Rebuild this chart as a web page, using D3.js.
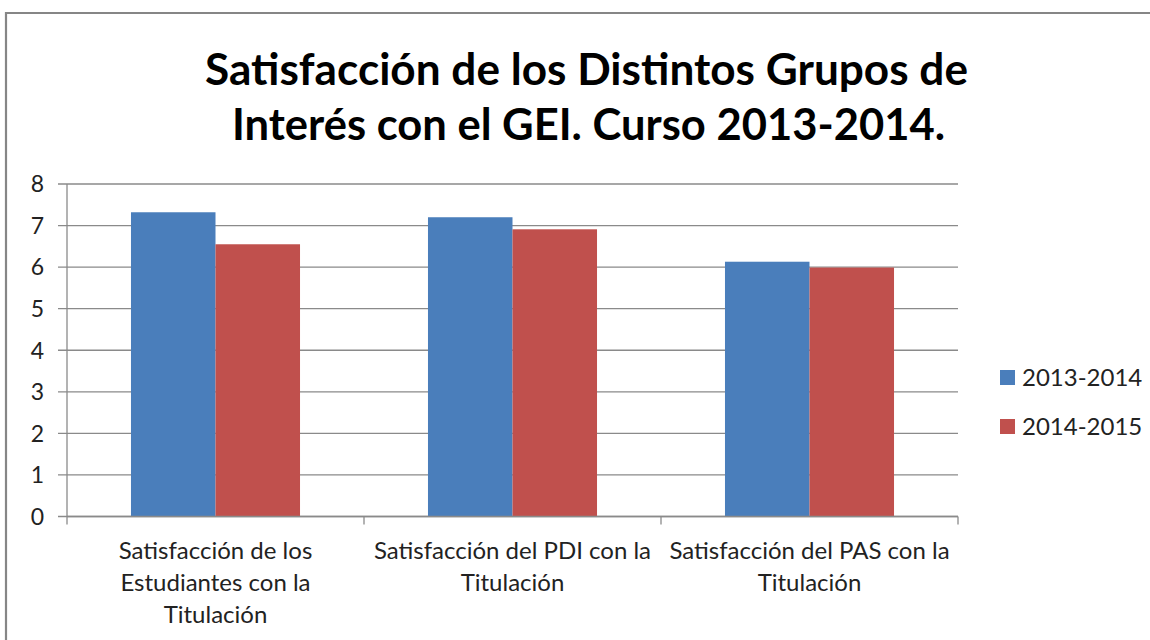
<!DOCTYPE html>
<html>
<head>
<meta charset="utf-8">
<script src="https://cdn.jsdelivr.net/npm/d3@7"></script>
<style>
  html, body { margin: 0; padding: 0; background: #fff; }
  svg { display: block; }
  text { font-family: Lato, "Open Sans", "Liberation Sans", sans-serif; fill: #222; }
</style>
</head>
<body>
<svg id="chart" width="1150" height="640"></svg>
<script>
const categories = [
  ["Satisfacción de los", "Estudiantes con la", "Titulación"],
  ["Satisfacción del PDI con la", "Titulación"],
  ["Satisfacción del PAS con la", "Titulación"]
];
const seriesNames = ["2013-2014", "2014-2015"];
const values2013 = [7.32, 7.20, 6.13];
const values2014 = [6.55, 6.91, 5.99];
const yTicks = [0, 1, 2, 3, 4, 5, 6, 7, 8];
const titleLines = ["Satisfacción de los Distintos Grupos de", "Interés con el GEI. Curso 2013-2014."];
const colors = ["#4A7EBB", "#C0504D"];

const svg = d3.select("#chart");

// outer chart border
svg.append("path")
  .attr("d", "M6,640 L6,13 L1150,13")
  .attr("fill", "none").attr("stroke", "#868686").attr("stroke-width", 2.2);

// title
const titleW = [763, 713];
const titleY = [85, 140];
titleLines.forEach((t, i) => {
  svg.append("text")
    .attr("x", i === 0 ? 586.5 : 588.5).attr("y", titleY[i])
    .attr("text-anchor", "middle")
    .attr("font-size", 44).attr("font-weight", "bold")
    .attr("textLength", titleW[i]).attr("lengthAdjust", "spacingAndGlyphs")
    .style("fill", "#000")
    .text(t);
});

const plot = { left: 67, right: 958, top: 184, bottom: 516.5 };

const x0 = d3.scaleBand().domain(d3.range(categories.length))
  .range([plot.left, plot.right]).paddingInner(0).paddingOuter(0);
const x1 = d3.scaleBand().domain(d3.range(seriesNames.length))
  .range([0, x0.bandwidth()]).paddingInner(0).paddingOuter(0.757);
const y = d3.scaleLinear().domain([0, 8]).range([plot.bottom, plot.top]);

// gridlines
svg.append("g").selectAll("line").data(yTicks).join("line")
  .attr("x1", plot.left - 9).attr("x2", plot.right)
  .attr("y1", d => y(d)).attr("y2", d => y(d))
  .attr("stroke", "#8a8a8a").attr("stroke-width", 1.3);

// y axis line
svg.append("line").attr("x1", plot.left).attr("x2", plot.left)
  .attr("y1", plot.top).attr("y2", plot.bottom)
  .attr("stroke", "#8a8a8a").attr("stroke-width", 1.3);

// y tick labels
svg.append("g").selectAll("text").data(yTicks).join("text")
  .attr("x", 44).attr("y", d => y(d)).attr("dy", "0.36em")
  .attr("text-anchor", "end").attr("font-size", 23)
  .text(d => d);

// bars
const series = [values2013, values2014];
const g = svg.append("g");
categories.forEach((c, ci) => {
  series.forEach((vals, si) => {
    g.append("rect")
      .attr("x", x0(ci) + x1(si))
      .attr("width", x1.bandwidth())
      .attr("y", y(vals[ci]))
      .attr("height", y(0) - y(vals[ci]))
      .attr("fill", colors[si]);
  });
});

// x axis ticks (category boundaries)
const boundaries = d3.range(categories.length + 1).map(i => i < categories.length ? x0(i) : plot.right);
svg.append("g").selectAll("line").data(boundaries).join("line")
  .attr("x1", d => d).attr("x2", d => d)
  .attr("y1", plot.bottom).attr("y2", plot.bottom + 8)
  .attr("stroke", "#8a8a8a").attr("stroke-width", 1.3);
svg.append("line").attr("x1", plot.left).attr("x2", plot.right)
  .attr("y1", plot.bottom).attr("y2", plot.bottom)
  .attr("stroke", "#8a8a8a").attr("stroke-width", 1.3);

// x labels
categories.forEach((lines, ci) => {
  const cx = x0(ci) + x0.bandwidth() / 2;
  lines.forEach((ln, li) => {
    svg.append("text")
      .attr("x", cx).attr("y", 559 + li * 32)
      .attr("text-anchor", "middle").attr("font-size", 24)
      .text(ln);
  });
});

// legend
seriesNames.forEach((s, i) => {
  const ly = 377 + i 
    * 49;
  svg.append("rect").attr("x", 1000).attr("y", ly - 7).attr("width", 15).attr("height", 15)
    .attr("fill", colors[i]);
  svg.append("text").attr("x", 1022).attr("y", ly).attr("dy", "0.36em")
    .attr("font-size", 24).text(s);
});
</script>
</body>
</html>
